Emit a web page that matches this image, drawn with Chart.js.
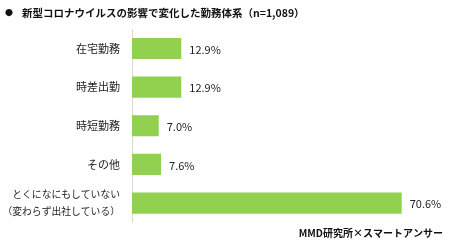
<!DOCTYPE html>
<html>
<head>
<meta charset="utf-8">
<script src="https://cdn.jsdelivr.net/npm/chart.js@4/dist/chart.umd.min.js"></script>
<style>
  html, body { margin: 0; padding: 0; background: #ffffff; }
  #wrap { width: 450px; height: 241px; position: relative; }
</style>
</head>
<body>
<div id="wrap"><canvas id="c" width="450" height="241"></canvas></div>
<script>
const categories = [
  '在宅勤務',
  '時差出勤',
  '時短勤務',
  'その他',
  ['とくになにもしていない', '（変わらず出社している）']
];
const values = [12.9, 12.9, 7.0, 7.6, 70.6];
const titleText = '新型コロナウイルスの影響で変化した勤務体系（n=1,089）';
const sourceText = 'MMD研究所×スマートアンサー';

const FONT = '"Noto Sans CJK JP", "Noto Sans", sans-serif';

const textPlugin = {
  id: 'texts',
  afterDraw(chart) {
    const ctx = chart.ctx;
    ctx.save();
    ctx.fillStyle = '#111';
    ctx.textBaseline = 'middle';
    // title bullet + text
    ctx.font = 'bold 8px ' + FONT;
    ctx.textAlign = 'left';
    ctx.fillText('●', 5, 13);
    ctx.font = 'bold 10.5px ' + FONT;
    ctx.fillText(titleText, 22, 13);
    // source
    ctx.textAlign = 'right';
    ctx.font = 'bold 10px ' + FONT;
    ctx.fillText(sourceText, 443, 233);
    // value labels
    const meta = chart.getDatasetMeta(0);
    ctx.textAlign = 'left';
    ctx.font = '11px ' + FONT;
    ctx.fillStyle = '#222';
    meta.data.forEach((bar, i) => {
      ctx.fillText(values[i].toFixed(1) + '%', bar.x + 8, bar.y + 1);
    });
    ctx.restore();
  }
};

new Chart(document.getElementById('c'), {
  type: 'bar',
  data: {
    labels: categories,
    datasets: [{
      data: values,
      backgroundColor: '#92d050',
      borderWidth: 0,
      barPercentage: 0.75,
      categoryPercentage: 0.73
    }]
  },
  options: {
    indexAxis: 'y',
    responsive: false,
    animation: false,
    devicePixelRatio: 1,
    layout: { padding: { top: 24, bottom: 17, left: 0, right: 12.4 } },
    plugins: {
      legend: { display: false },
      tooltip: { enabled: false },
      title: { display: false }
    },
    scales: {
      x: {
        display: false,
        min: 0,
        max: 80
      },
      y: {
        afterFit(scale) { scale.width = 132; },
        grid: { display: false, drawTicks: false },
        border: { display: true, color: '#d9d9d9', width: 1 },
        ticks: {
          padding: 12,
          color: '#222',
          font: (c) => ({ family: FONT, size: c.index === 4 ? 9.8 : 11, lineHeight: c.index === 4 ? 1.75 : 1.2 })
        }
      }
    }
  },
  plugins: [textPlugin]
});
</script>
</body>
</html>
